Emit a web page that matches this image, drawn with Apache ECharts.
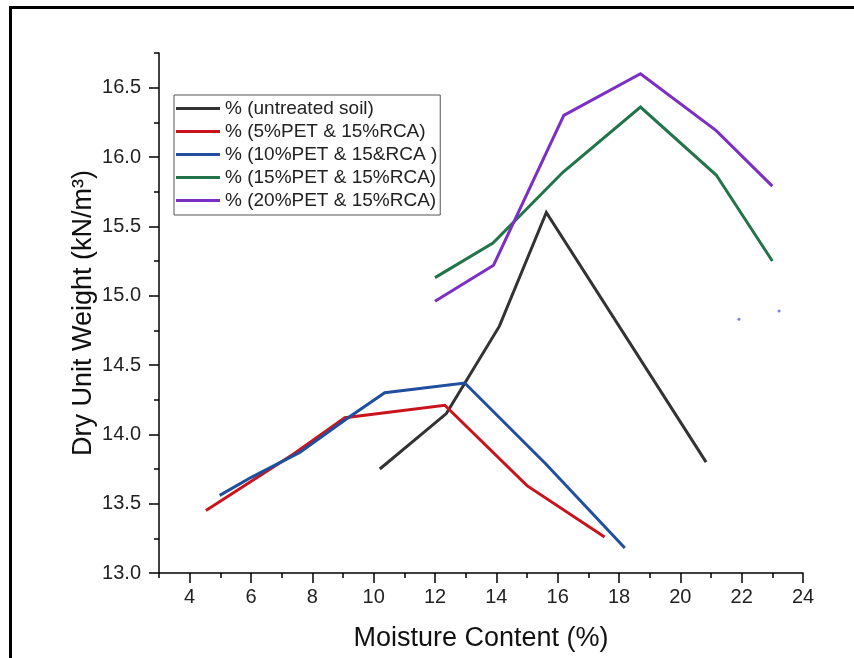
<!DOCTYPE html>
<html>
<head>
<meta charset="utf-8">
<script src="https://cdn.jsdelivr.net/npm/echarts@6/dist/echarts.min.js"></script>
<style>
html,body{margin:0;padding:0;background:#fff;}
#chart{width:854px;height:658px;}
</style>
</head>
<body>
<div id="chart"></div>
<script>
// ---- data ----
const seriesNames = [
  '% (untreated soil)',
  '% (5%PET & 15%RCA)',
  '% (10%PET & 15&RCA )',
  '% (15%PET & 15%RCA)',
  '% (20%PET & 15%RCA)'
];
const untreatedX = [10.2, 12.37, 14.1, 15.63, 20.84];
const untreatedY = [13.75, 14.15, 14.78, 15.60, 13.80];
const pet5X = [4.53, 7.4, 9.06, 12.32, 15.0, 17.53];
const pet5Y = [13.45, 13.86, 14.12, 14.21, 13.63, 13.26];
const pet10X = [4.98, 6.01, 7.59, 9.11, 10.36, 12.97, 15.6, 18.19];
const pet10Y = [13.56, 13.69, 13.87, 14.11, 14.30, 14.37, 13.79, 13.18];
const pet15X = [12.0, 13.89, 16.17, 18.70, 21.17, 23.0];
const pet15Y = [15.13, 15.38, 15.89, 16.36, 15.87, 15.25];
const pet20X = [12.0, 13.91, 16.2, 18.70, 21.17, 23.0];
const pet20Y = [14.96, 15.22, 16.30, 16.60, 16.19, 15.79];
const strayX = [21.91, 23.22];
const strayY = [14.83, 14.89];
const xMajorTicks = [4, 6, 8, 10, 12, 14, 16, 18, 20, 22, 24];
const yMajorTicks = [13.0, 13.5, 14.0, 14.5, 15.0, 15.5, 16.0, 16.5];
const colors = ['#333333', '#c8141c', '#1f4f9e', '#23744a', '#7b2fc4'];

function pairs(xs, ys) { return xs.map((x, i) => [x, ys[i]]); }

const FONT = "'Liberation Sans', Arial, sans-serif";
const chart = echarts.init(document.getElementById('chart'), null, {renderer: 'canvas'});

const lineData = [
  pairs(untreatedX, untreatedY),
  pairs(pet5X, pet5Y),
  pairs(pet10X, pet10Y),
  pairs(pet15X, pet15Y),
  pairs(pet20X, pet20Y)
];

const series = lineData.map((d, i) => ({
  name: seriesNames[i],
  type: 'line',
  data: d,
  showSymbol: false,
  symbol: 'none',
  lineStyle: {width: 3, color: colors[i], join: 'miter'},
  itemStyle: {color: colors[i]},
  xAxisIndex: 0, yAxisIndex: 0,
  z: 3
}));
series.push({
  name: 'stray',
  type: 'scatter',
  data: pairs(strayX, strayY),
  symbolSize: 3,
  itemStyle: {color: '#5a5aff'},
  xAxisIndex: 0, yAxisIndex: 0
});

const axisBlack = {color: '#000', width: 1.5};

chart.setOption({
  animation: false,
  backgroundColor: '#fff',
  grid: {left: 159, right: 51, top: 53, bottom: 85, containLabel: false},
  legend: {
    data: seriesNames,
    orient: 'vertical',
    left: 174, top: 95,
    padding: [4, 3, 5, 2],
    itemGap: 4,
    itemWidth: 44, itemHeight: 3,
    icon: 'rect',
    borderColor: '#555', borderWidth: 1,
    textStyle: {fontFamily: FONT, fontSize: 19, color: '#222', lineHeight: 19}
  },
  xAxis: [
    {
      type: 'value', min: 3, max: 24, interval: 1,
      name: 'Moisture Content (%)', nameLocation: 'middle', nameGap: 52,
      nameTextStyle: {fontFamily: FONT, fontSize: 27, color: '#111'},
      axisLine: {show: true, onZero: false, lineStyle: axisBlack},
      axisTick: {show: true, length: 5, lineStyle: axisBlack},
      axisLabel: {show: false},
      splitLine: {show: false}
    },
    {
      type: 'value', min: 3, max: 24, interval: 1, position: 'bottom', offset: 0,
      axisLine: {show: false, onZero: false},
      axisTick: {show: true, length: 10, lineStyle: axisBlack, customValues: xMajorTicks},
      axisLabel: {show: true, margin: 14, fontFamily: FONT, fontSize: 20, color: '#222',
        customValues: xMajorTicks,
        formatter: v => (Math.abs(v % 2) < 1e-9 ? String(v) : '')},
      splitLine: {show: false}
    }
  ],
  yAxis: [
    {
      type: 'value', min: 13, max: 16.75, interval: 0.25,
      name: 'Dry Unit Weight (kN/m³)', nameLocation: 'middle', nameGap: 62,
      nameTextStyle: {fontFamily: FONT, fontSize: 27, color: '#111'},
      axisLine: {show: true, onZero: false, lineStyle: axisBlack},
      axisTick: {show: true, length: 5, lineStyle: axisBlack},
      axisLabel: {show: false},
      splitLine: {show: false}
    },
    {
      type: 'value', min: 13, max: 16.75, interval: 0.25, position: 'left', offset: 0,
      axisLine: {show: false, onZero: false},
      axisTick: {show: true, length: 10, lineStyle: axisBlack, customValues: yMajorTicks},
      axisLabel: {show: true, margin: 18, fontFamily: FONT, fontSize: 20, color: '#222',
        customValues: yMajorTicks,
        formatter: v => (Math.abs((v * 2) % 1) < 1e-9 ? v.toFixed(1) : '')},
      splitLine: {show: false}
    }
  ],
  graphic: [
    {type: 'line', shape: {x1: 9, y1: 7.5, x2: 860, y2: 7.5}, style: {stroke: '#000', lineWidth: 3}, silent: true},
    {type: 'line', shape: {x1: 10.5, y1: 6, x2: 10.5, y2: 670}, style: {stroke: '#000', lineWidth: 3}, silent: true}
  ],
  series: series
});
</script>
</body>
</html>
